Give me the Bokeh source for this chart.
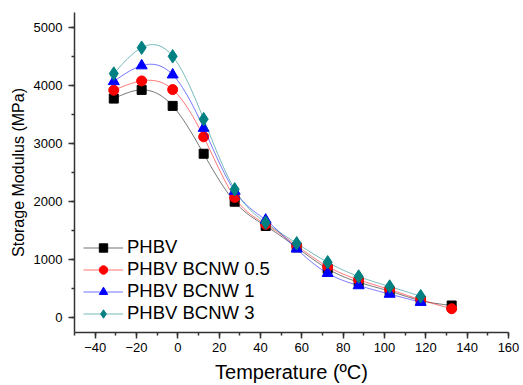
import numpy as np
from bokeh.plotting import figure
from bokeh.models import Range1d, SingleIntervalTicker, Legend, LegendItem
from bokeh.embed import file_html
from bokeh.resources import INLINE

# ---- data ----
temperature = [-31, -17.5, -2.5, 12.5, 27.5, 42.5, 57.5, 72.5, 87.5, 102.5, 117.5, 132.5]
phbv = [3770, 3920, 3645, 2822, 1998, 1581, 1214, 844, 614, 460, 300, 214]
phbv_bcnw_05 = [3914, 4074, 3925, 3113, 2072, 1610, 1243, 883, 655, 489, 312, 158]
phbv_bcnw_1 = [4065, 4336, 4180, 3262, 2180, 1684, 1187, 768, 557, 410, 271]
phbv_bcnw_3 = [4200, 4645, 4497, 3417, 2210, 1638, 1283, 957, 712, 540, 374]

series_names = ["PHBV", "PHBV BCNW 0.5", "PHBV BCNW 1", "PHBV BCNW 3"]
series_values = [phbv, phbv_bcnw_05, phbv_bcnw_1, phbv_bcnw_3]
colors = ["#000000", "#FF0000", "#0000FF", "#008080"]
markers = ["square", "circle", "triangle", "diamond"]
marker_sizes = [9, 10, 11, 13.5]

FONT = "Liberation Sans"


def natural_spline(xs, ys, n=300):
    """Smooth drawing curve through the data points (natural cubic spline)."""
    x = np.asarray(xs, float)
    y = np.asarray(ys, float)
    k = len(x)
    h = np.diff(x)
    A = np.zeros((k, k))
    b = np.zeros(k)
    A[0, 0] = 1
    A[-1, -1] = 1
    for i in range(1, k - 1):
        A[i, i - 1] = h[i - 1]
        A[i, i] = 2 * (h[i - 1] + h[i])
        A[i, i + 1] = h[i]
        b[i] = 3 * ((y[i + 1] - y[i]) / h[i] - (y[i] - y[i - 1]) / h[i - 1])
    c = np.linalg.solve(A, b)
    bb = (y[1:] - y[:-1]) / h - h * (2 * c[:-1] + c[1:]) / 3
    d = (c[1:] - c[:-1]) / (3 * h)
    xx = np.linspace(x[0], x[-1], n)
    idx = np.clip(np.searchsorted(x, xx) - 1, 0, k - 2)
    dx = xx - x[idx]
    yy = y[idx] + bb[idx] * dx + c[idx] * dx ** 2 + d[idx] * dx ** 3
    return xx, yy


p = figure(width=523, height=385, output_backend="svg", toolbar_location=None,
           x_range=Range1d(-50, 160), y_range=Range1d(-250, 5250),
           min_border_left=74, min_border_right=15, min_border_top=12,
           min_border_bottom=52)
p.outline_line_color = None
p.xgrid.grid_line_color = None
p.ygrid.grid_line_color = None
p.background_fill_color = "white"

items = []
for name, vals, col, mk, ms in zip(series_names, series_values, colors,
                                    markers, marker_sizes):
    xs = temperature[:len(vals)]
    sx, sy = natural_spline(xs, vals)
    lr = p.line(sx, sy, line_color=col, line_width=1, line_alpha=0.55)
    sr = p.scatter(xs, vals, marker=mk, size=ms, fill_color=col, line_color=col)
    items.append(LegendItem(label=name, renderers=[lr, sr]))

legend = Legend(items=items, location=(9, 8), background_fill_alpha=0,
                border_line_alpha=0, padding=0, margin=0, spacing=0,
                glyph_width=40, glyph_height=21, label_height=21,
                label_standoff=4, label_text_font=FONT,
                label_text_font_size="18.5px", label_text_color="black")
p.add_layout(legend)

p.xaxis.ticker = SingleIntervalTicker(interval=20, num_minor_ticks=2)
p.yaxis.ticker = SingleIntervalTicker(interval=1000, num_minor_ticks=2)
p.xaxis.axis_label = "Temperature (ºC)"
p.yaxis.axis_label = "Storage Modulus (MPa)"

for ax in (p.xaxis, p.yaxis):
    ax.axis_line_color = "#333333"
    ax.axis_line_width = 1.5
    ax.major_tick_line_color = "#333333"
    ax.minor_tick_line_color = "#333333"
    ax.major_tick_line_width = 1.5
    ax.minor_tick_line_width = 1.5
    ax.major_tick_out = 6
    ax.major_tick_in = 0
    ax.minor_tick_out = 3
    ax.minor_tick_in = 0
    ax.major_label_text_font = FONT
    ax.major_label_text_font_size = "13px"
    ax.major_label_text_color = "black"
    ax.axis_label_text_font = FONT
    ax.axis_label_text_font_style = "normal"
    ax.axis_label_text_color = "black"

p.xaxis.major_label_standoff = 4
p.xaxis.axis_label_standoff = 6
p.xaxis.axis_label_text_font_size = "20px"
p.yaxis.major_label_standoff = 6
p.yaxis.axis_label_standoff = 4
p.yaxis.axis_label_text_font_size = "16px"

open("out.html", "w").write(file_html(p, INLINE))
